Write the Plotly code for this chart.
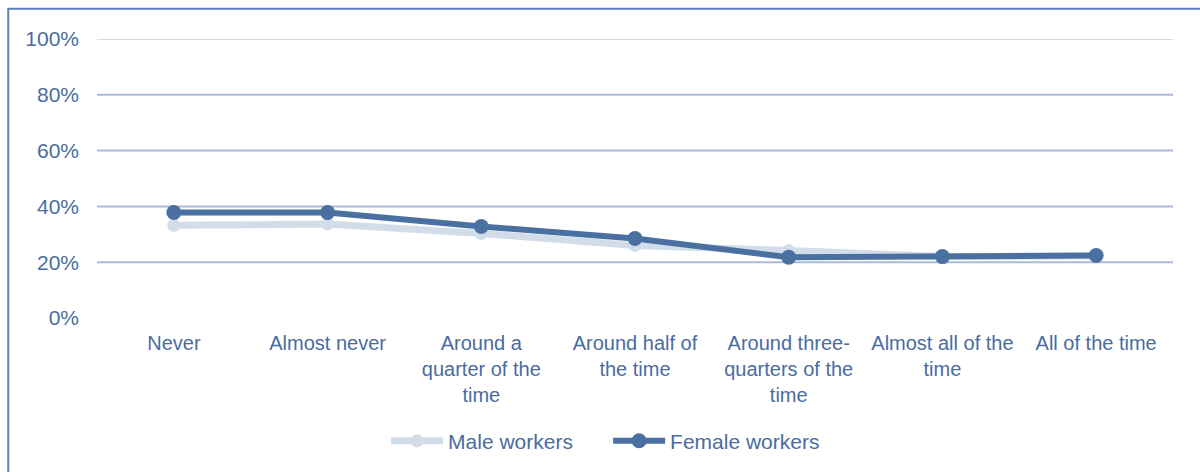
import plotly.graph_objects as go

# Share of workers by how often the situation occurs
categories = [
    "Never",
    "Almost never",
    "Around a<br>quarter of the<br>time",
    "Around half of<br>the time",
    "Around three-<br>quarters of the<br>time",
    "Almost all of the<br>time",
    "All of the time",
]
male_workers = [33.2, 33.7, 30.3, 26.0, 24.2, 22.0, 22.3]
female_workers = [37.8, 37.8, 32.8, 28.5, 21.8, 22.0, 22.4]

y_ticks = [0, 20, 40, 60, 80, 100]
y_tick_text = ["0%", "20%", "40%", "60%", "80%", "100%"]

TEXT = "#4a6c9f"
FONT = "Liberation Sans, Arial, sans-serif"

fig = go.Figure()
fig.add_trace(go.Scatter(
    x=categories, y=male_workers, name="Male workers",
    mode="lines+markers",
    line=dict(color="#d3dde9", width=7),
    marker=dict(color="#d3dde9", size=13),
))
fig.add_trace(go.Scatter(
    x=categories, y=female_workers, name="Female workers",
    mode="lines+markers",
    line=dict(color="#4a70a2", width=6),
    marker=dict(color="#4a70a2", size=15),
))

# Horizontal gridlines: top one grey, the rest light blue, none at 0
shapes = []
for v in y_ticks[1:]:
    shapes.append(dict(
        type="line", xref="paper", yref="y", x0=0, x1=1, y0=v, y1=v,
        line=dict(color="#d9d9d9" if v == 100 else "#a9bbdc", width=2),
        layer="below",
    ))
# Outer chart border
shapes.append(dict(
    type="rect", xref="paper", yref="paper",
    x0=-0.0825, x1=1.2, y0=1.108, y1=-0.7,
    line=dict(color="#5b7fbf", width=2), fillcolor="rgba(0,0,0,0)",
    layer="above",
))

fig.update_layout(
    width=1200, height=472,
    margin=dict(l=97, r=27, t=39, b=153),
    paper_bgcolor="white", plot_bgcolor="white",
    font=dict(family=FONT, size=20, color=TEXT),
    shapes=shapes,
    showlegend=True,
    legend=dict(
        orientation="h", x=0.475, xanchor="center", y=-0.436, yanchor="middle",
        font=dict(size=21, color=TEXT), itemwidth=52, traceorder="normal",
        entrywidth=155, entrywidthmode="pixels",
    ),
    xaxis=dict(
        showgrid=False, zeroline=False, showline=False, ticks="",
        tickfont=dict(size=20, color=TEXT), ticklabelstandoff=11,
        range=[-0.5, 6.5],
    ),
    yaxis=dict(
        range=[0, 100], tickvals=y_ticks, ticktext=y_tick_text,
        showgrid=False, zeroline=False, showline=False, ticks="",
        tickfont=dict(size=21, color=TEXT), ticklabelstandoff=17,
    ),
)

fig.write_html("out.html")
